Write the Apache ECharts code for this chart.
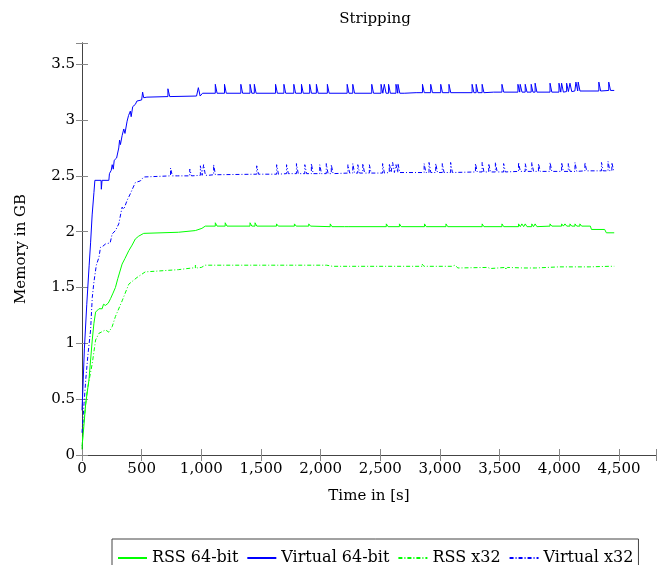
<!DOCTYPE html>
<html>
<head>
<meta charset="utf-8">
<script src="https://cdn.jsdelivr.net/npm/echarts@6/dist/echarts.min.js"></script>
<style>
  html, body { margin: 0; padding: 0; background: #fff; }
  #main { width: 659px; height: 565px; }
</style>
</head>
<body>
<div id="main"></div>
<script>
// time in s, memory in GB
var seriesNames = ['RSS 64-bit', 'Virtual 64-bit', 'RSS x32', 'Virtual x32'];
var xTicks = [0, 500, 1000, 1500, 2000, 2500, 3000, 3500, 4000, 4500];
var yTicks = [0, 0.5, 1, 1.5, 2, 2.5, 3, 3.5];

var virt64Base = [[0,0.40],[8,0.61],[20,0.95],[40,1.35],[60,1.70],[72,1.90],[85,2.15],[100,2.35],[108,2.46],[160,2.46],[162,2.38],[166,2.38],[168,2.46],[225,2.46],[230,2.52],[245,2.55],[253,2.60],[262,2.56],[270,2.64],[290,2.66],[308,2.75],[315,2.82],[322,2.78],[336,2.86],[350,2.92],[360,2.88],[378,2.99],[390,3.04],[405,3.08],[412,3.03],[425,3.12],[447,3.14],[460,3.17],[475,3.16],[500,3.18],[508,3.25],[517,3.20],[544,3.205],[960,3.215],[1000,3.22],[1010,3.24],[2700,3.24],[2800,3.245],[3450,3.25],[4050,3.255],[4130,3.26],[4460,3.265]];
// [time, base, peak]
var virt64Spikes = [[720,3.21,3.28],[975,3.215,3.29],[1117,3.24,3.32],[1194,3.24,3.32],[1331,3.24,3.32],[1408,3.24,3.32],[1444,3.24,3.32],[1622,3.24,3.32],[1692,3.24,3.32],[1775,3.24,3.32],[1839,3.24,3.32],[1908,3.24,3.32],[1964,3.24,3.32],[2056,3.24,3.32],[2222,3.24,3.32],[2269,3.24,3.32],[2428,3.24,3.32],[2506,3.24,3.32],[2533,3.24,3.32],[2569,3.24,3.32],[2631,3.24,3.32],[2648,3.24,3.32],[2853,3.245,3.32],[2922,3.245,3.32],[3006,3.245,3.32],[3075,3.245,3.32],[3269,3.245,3.32],[3303,3.245,3.32],[3353,3.245,3.32],[3519,3.25,3.32],[3653,3.25,3.32],[3672,3.25,3.32],[3714,3.25,3.32],[3764,3.25,3.32],[3797,3.25,3.33],[3922,3.25,3.33],[3997,3.25,3.33],[4019,3.25,3.33],[4061,3.255,3.33],[4089,3.255,3.33],[4139,3.26,3.34],[4158,3.26,3.34],[4331,3.26,3.34],[4414,3.265,3.34]];

var virt32Base = [[0,0.20],[17,0.46],[31,0.67],[50,0.90],[72,1.12],[86,1.41],[100,1.55],[120,1.70],[142,1.77],[155,1.86],[175,1.87],[197,1.89],[236,1.90],[253,1.98],[280,2.01],[308,2.07],[336,2.22],[350,2.20],[378,2.28],[405,2.34],[430,2.40],[447,2.44],[489,2.455],[517,2.49],[530,2.485],[800,2.50],[1060,2.505],[1500,2.515],[3000,2.53],[4000,2.54],[4460,2.545]];
var virt32Spikes = [[742,2.50,2.57],[903,2.50,2.56],[992,2.505,2.59],[1019,2.505,2.60],[1103,2.51,2.60],[1464,2.515,2.59],[1631,2.515,2.60],[1714,2.52,2.60],[1797,2.52,2.61],[1867,2.52,2.60],[1922,2.52,2.61],[1992,2.52,2.60],[2047,2.52,2.61],[2089,2.52,2.60],[2228,2.525,2.60],[2269,2.525,2.61],[2311,2.525,2.60],[2353,2.525,2.61],[2408,2.525,2.60],[2519,2.525,2.61],[2575,2.53,2.61],[2603,2.53,2.62],[2631,2.53,2.60],[2648,2.53,2.61],[2867,2.53,2.61],[2908,2.53,2.62],[2964,2.53,2.61],[3019,2.53,2.61],[3089,2.53,2.62],[3297,2.535,2.61],[3353,2.535,2.62],[3408,2.535,2.61],[3464,2.535,2.62],[3533,2.535,2.61],[3658,2.54,2.62],[3714,2.54,2.61],[3769,2.54,2.62],[3825,2.54,2.61],[3922,2.54,2.62],[4019,2.54,2.62],[4075,2.54,2.61],[4131,2.54,2.62],[4214,2.545,2.62],[4353,2.545,2.62],[4408,2.545,2.63],[4440,2.545,2.62]];

var rss64Base = [[0,0.08],[8,0.16],[31,0.46],[58,0.67],[86,1.03],[100,1.18],[114,1.28],[142,1.31],[169,1.31],[180,1.35],[197,1.34],[220,1.36],[239,1.40],[260,1.45],[280,1.50],[300,1.58],[336,1.71],[360,1.76],[392,1.83],[420,1.88],[447,1.935],[475,1.96],[517,1.985],[808,1.995],[950,2.01],[1005,2.03],[1033,2.05],[2200,2.045],[3000,2.045],[4260,2.05],[4269,2.02],[4380,2.02],[4394,1.99],[4460,1.99]];
var rss64Spikes = [[1117,2.05,2.08],[1200,2.05,2.08],[1408,2.05,2.08],[1450,2.05,2.08],[1630,2.05,2.07],[1780,2.05,2.07],[1900,2.05,2.07],[2080,2.045,2.07],[2230,2.045,2.06],[2550,2.045,2.07],[2660,2.045,2.07],[2870,2.045,2.07],[3050,2.045,2.07],[3353,2.045,2.07],[3519,2.045,2.07],[3658,2.045,2.07],[3686,2.045,2.07],[3714,2.045,2.07],[3769,2.045,2.07],[3797,2.045,2.07],[3922,2.05,2.07],[4019,2.05,2.07],[4047,2.05,2.07],[4089,2.05,2.07],[4131,2.05,2.07],[4172,2.05,2.07]];

var rss32Base = [[0,0.05],[8,0.22],[44,0.58],[86,0.82],[114,1.03],[142,1.09],[197,1.12],[225,1.10],[253,1.15],[280,1.24],[336,1.38],[392,1.53],[461,1.59],[530,1.64],[808,1.66],[922,1.675],[1000,1.68],[1033,1.70],[2000,1.70],[2100,1.69],[3100,1.69],[3150,1.675],[3400,1.68],[3420,1.67],[3800,1.675],[4000,1.685],[4460,1.69]];
var rss32Spikes = [[950,1.675,1.70],[1050,1.70,1.71],[1600,1.70,1.71],[2050,1.70,1.715],[2850,1.69,1.71],[3110,1.69,1.70],[3550,1.68,1.66],[3700,1.675,1.66],[3900,1.68,1.665],[4250,1.685,1.70],[4420,1.69,1.70]];

var FONT = "'DejaVu Serif', 'Liberation Serif', serif";
var FS = 15;

// merge a baseline with its narrow spikes
function buildSeries (base, spikes) {
  var pts = base.slice();
  spikes.forEach(function (s) {
    pts.push([s[0], s[1]], [s[0], s[2]], [s[0] + 15, s[2]], [s[0] + 15, s[1]]);
  });
  // stable sort by time
  return pts.map(function (p, i) { return [p, i]; })
    .sort(function (a, b) { return a[0][0] - b[0][0] || a[1] - b[1]; })
    .map(function (q) { return q[0]; });
}

var myChart = echarts.init(document.getElementById('main'));

var dashDot = [4, 2, 1, 2];

var hiddenAxis = {
  axisLine: { show: true, lineStyle: { color: '#444', width: 1 } },
  axisTick: { show: true, inside: true, length: 6, lineStyle: { color: '#888' } },
  axisLabel: { show: false },
  splitLine: { show: false }
};

option = {
  animation: false,
  title: {
    text: 'Stripping',
    left: 370,
    top: 7,
    textAlign: 'center',
    textStyle: { fontFamily: FONT, fontSize: FS, fontWeight: 'normal', color: '#000' }
  },
  grid: { left: 82, right: 1, top: 43, bottom: 110 },
  legend: {
    data: seriesNames,
    left: 112,
    top: 539,
    orient: 'horizontal',
    padding: [11, 5, 10, 5],
    borderColor: '#444',
    borderWidth: 1,
    itemWidth: 29,
    itemHeight: 10,
    itemGap: 8,
    itemStyle: { opacity: 0 },
    textStyle: { fontFamily: FONT, fontSize: 16, color: '#000' }
  },
  xAxis: [{
    type: 'value',
    min: 0,
    max: 4810,
    interval: 500,
    name: 'Time in [s]',
    nameLocation: 'middle',
    nameGap: 34,
    nameTextStyle: { fontFamily: FONT, fontSize: FS, color: '#000' },
    axisLine: { show: true, onZero: false, lineStyle: { color: '#444', width: 1 } },
    axisTick: { show: true, inside: true, length: 6, lineStyle: { color: '#888' } },
    axisLabel: {
      margin: 7,
      fontFamily: FONT,
      fontSize: FS,
      color: '#000',
      formatter: function (v) { return xTicks.indexOf(v) >= 0 ? v.toLocaleString('en-US') : ''; }
    },
    splitLine: { show: false }
  }, Object.assign({
    type: 'value', position: 'top', min: 0, max: 4810, interval: 500
  }, hiddenAxis)],
  yAxis: [{
    type: 'value',
    min: 0,
    max: 3.69,
    interval: 0.5,
    name: 'Memory in GB',
    nameLocation: 'middle',
    nameGap: 53,
    nameTextStyle: { fontFamily: FONT, fontSize: FS, color: '#000' },
    axisLine: { show: true, onZero: false, lineStyle: { color: '#444', width: 1 } },
    axisTick: { show: true, inside: true, length: 6, lineStyle: { color: '#888' } },
    axisLabel: {
      margin: 7,
      fontFamily: FONT,
      fontSize: FS,
      color: '#000',
      formatter: function (v) { return yTicks.indexOf(v) >= 0 ? String(v) : ''; }
    },
    splitLine: { show: false }
  }, Object.assign({
    type: 'value', position: 'right', min: 0, max: 3.69, interval: 0.5
  }, hiddenAxis)],
  series: [{
    name: 'RSS 64-bit',
    type: 'line',
    showSymbol: false,
    symbol: 'none',
    color: '#00ff00',
    lineStyle: { width: 1, color: '#00ff00' },
    data: buildSeries(rss64Base, rss64Spikes)
  }, {
    name: 'Virtual 64-bit',
    type: 'line',
    showSymbol: false,
    symbol: 'none',
    color: '#0000ff',
    lineStyle: { width: 1, color: '#0000ff' },
    data: buildSeries(virt64Base, virt64Spikes)
  }, {
    name: 'RSS x32',
    type: 'line',
    showSymbol: false,
    symbol: 'none',
    color: '#00ff00',
    lineStyle: { width: 1, color: '#00ff00', type: dashDot },
    data: buildSeries(rss32Base, rss32Spikes)
  }, {
    name: 'Virtual x32',
    type: 'line',
    showSymbol: false,
    symbol: 'none',
    color: '#0000ff',
    lineStyle: { width: 1, color: '#0000ff', type: dashDot },
    data: buildSeries(virt32Base, virt32Spikes)
  }]
};

myChart.setOption(option);
window.addEventListener("resize", function () {
  myChart.resize();
});
</script>
</body>
</html>
